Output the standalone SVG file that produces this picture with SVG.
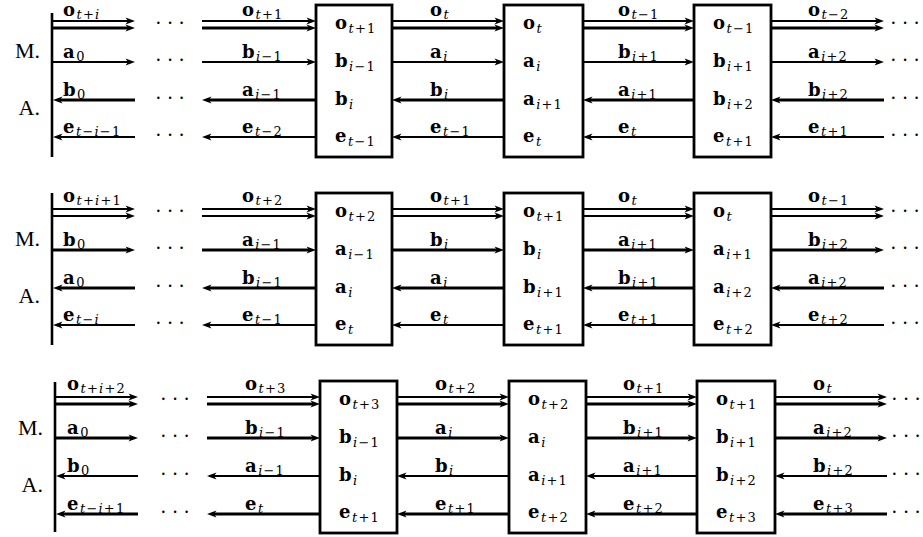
<svg xmlns="http://www.w3.org/2000/svg" width="923" height="537" viewBox="0 0 923 537">
<defs>
<marker id="ah" viewBox="-10 -4 10 8" refX="-5" refY="0" markerWidth="10" markerHeight="8" markerUnits="userSpaceOnUse" orient="auto" overflow="visible"><path d="M0,0 L-9.5,-3.6 L-7,0 L-9.5,3.6 Z" fill="#000"/></marker>
<style>
.t{stroke:#000;fill:none;stroke-width:1.8;marker-end:url(#ah)}
.k{stroke:#000;fill:none;stroke-width:3.2;marker-end:url(#ah)}
.bar{stroke:#000;stroke-width:2.6}
.box{fill:#fff;stroke:#000;stroke-width:2.8}
.lb{font-family:"DejaVu Serif",serif;font-weight:bold;font-size:18px;fill:#000}
.sb{font-weight:normal;font-size:13px;letter-spacing:1.2px}
.i{font-style:italic}
.ml{font-family:"Liberation Serif",serif;font-size:22px;fill:#000;text-anchor:end}
.dt{font-family:"Liberation Serif",serif;font-size:20px;fill:#000;text-anchor:middle}
</style>
</defs>
<rect width="923" height="537" fill="#fff"/>

<g id="row1-frame">
<line class="bar" x1="52" y1="13" x2="52" y2="157"/>
<text class="ml" x="40" y="58">M.</text>
<text class="ml" x="40" y="115">A.</text>
<text class="dt" x="170" y="30">· · ·</text>
<text class="dt" x="170" y="67">· · ·</text>
<text class="dt" x="170" y="105">· · ·</text>
<text class="dt" x="170" y="142">· · ·</text>
<text class="dt" x="905" y="30">· · ·</text>
<text class="dt" x="905" y="67">· · ·</text>
<text class="dt" x="905" y="105">· · ·</text>
<text class="dt" x="905" y="142">· · ·</text>
</g>
<g id="row2-frame">
<line class="bar" x1="52" y1="193" x2="52" y2="345"/>
<text class="ml" x="40" y="246">M.</text>
<text class="ml" x="40" y="303">A.</text>
<text class="dt" x="170" y="218">· · ·</text>
<text class="dt" x="170" y="255">· · ·</text>
<text class="dt" x="170" y="293">· · ·</text>
<text class="dt" x="170" y="330">· · ·</text>
<text class="dt" x="905" y="218">· · ·</text>
<text class="dt" x="905" y="255">· · ·</text>
<text class="dt" x="905" y="293">· · ·</text>
<text class="dt" x="905" y="330">· · ·</text>
</g>
<g id="row3-frame">
<line class="bar" x1="55" y1="382" x2="55" y2="532"/>
<text class="ml" x="43" y="435">M.</text>
<text class="ml" x="43" y="492">A.</text>
<text class="dt" x="175" y="406">· · ·</text>
<text class="dt" x="175" y="443">· · ·</text>
<text class="dt" x="175" y="481">· · ·</text>
<text class="dt" x="175" y="519">· · ·</text>
<text class="dt" x="906" y="406">· · ·</text>
<text class="dt" x="906" y="443">· · ·</text>
<text class="dt" x="906" y="481">· · ·</text>
<text class="dt" x="906" y="519">· · ·</text>
</g>

<g id="connectors">
<!-- row 1 -->
<line class="t" x1="52" y1="21" x2="130" y2="21"/><line class="k" x1="52" y1="28" x2="130" y2="28"/><line class="t" x1="52" y1="62" x2="130" y2="62"/><line class="k" x1="135" y1="100" x2="58" y2="100"/><line class="t" x1="135" y1="137" x2="58" y2="137"/>
<line class="t" x1="202" y1="21" x2="311" y2="21"/><line class="k" x1="202" y1="28" x2="311" y2="28"/><line class="t" x1="202" y1="62" x2="311" y2="62"/><line class="k" x1="316" y1="100" x2="207" y2="100"/><line class="t" x1="316" y1="137" x2="207" y2="137"/>
<line class="t" x1="392" y1="21" x2="499" y2="21"/><line class="k" x1="392" y1="28" x2="499" y2="28"/><line class="t" x1="392" y1="62" x2="499" y2="62"/><line class="k" x1="504" y1="100" x2="397" y2="100"/><line class="t" x1="504" y1="137" x2="397" y2="137"/>
<line class="t" x1="583" y1="21" x2="689" y2="21"/><line class="k" x1="583" y1="28" x2="689" y2="28"/><line class="t" x1="583" y1="62" x2="689" y2="62"/><line class="k" x1="694" y1="100" x2="588" y2="100"/><line class="t" x1="694" y1="137" x2="588" y2="137"/>
<line class="t" x1="771" y1="21" x2="879" y2="21"/><line class="k" x1="771" y1="28" x2="879" y2="28"/><line class="t" x1="771" y1="62" x2="879" y2="62"/><line class="k" x1="884" y1="100" x2="776" y2="100"/><line class="t" x1="884" y1="137" x2="776" y2="137"/>
<!-- row 2 -->
<line class="t" x1="52" y1="209" x2="130" y2="209"/><line class="t" x1="52" y1="216" x2="130" y2="216"/><line class="k" x1="52" y1="250" x2="130" y2="250"/><line class="k" x1="135" y1="288" x2="58" y2="288"/><line class="t" x1="135" y1="325" x2="58" y2="325"/>
<line class="t" x1="202" y1="209" x2="311" y2="209"/><line class="t" x1="202" y1="216" x2="311" y2="216"/><line class="k" x1="202" y1="250" x2="311" y2="250"/><line class="k" x1="316" y1="288" x2="207" y2="288"/><line class="t" x1="316" y1="325" x2="207" y2="325"/>
<line class="t" x1="392" y1="209" x2="499" y2="209"/><line class="t" x1="392" y1="216" x2="499" y2="216"/><line class="k" x1="392" y1="250" x2="499" y2="250"/><line class="k" x1="504" y1="288" x2="397" y2="288"/><line class="t" x1="504" y1="325" x2="397" y2="325"/>
<line class="t" x1="583" y1="209" x2="689" y2="209"/><line class="t" x1="583" y1="216" x2="689" y2="216"/><line class="k" x1="583" y1="250" x2="689" y2="250"/><line class="k" x1="694" y1="288" x2="588" y2="288"/><line class="t" x1="694" y1="325" x2="588" y2="325"/>
<line class="t" x1="771" y1="209" x2="879" y2="209"/><line class="t" x1="771" y1="216" x2="879" y2="216"/><line class="k" x1="771" y1="250" x2="879" y2="250"/><line class="k" x1="884" y1="288" x2="776" y2="288"/><line class="t" x1="884" y1="325" x2="776" y2="325"/>
<!-- row 3 -->
<line class="t" x1="55" y1="397" x2="133" y2="397"/><line class="k" x1="55" y1="404" x2="133" y2="404"/><line class="k" x1="55" y1="438" x2="133" y2="438"/><line class="t" x1="138" y1="476" x2="61" y2="476"/><line class="k" x1="138" y1="514" x2="61" y2="514"/>
<line class="t" x1="207" y1="397" x2="315" y2="397"/><line class="k" x1="207" y1="404" x2="315" y2="404"/><line class="k" x1="207" y1="438" x2="315" y2="438"/><line class="t" x1="320" y1="476" x2="212" y2="476"/><line class="k" x1="320" y1="514" x2="212" y2="514"/>
<line class="t" x1="397" y1="397" x2="504" y2="397"/><line class="k" x1="397" y1="404" x2="504" y2="404"/><line class="k" x1="397" y1="438" x2="504" y2="438"/><line class="t" x1="509" y1="476" x2="402" y2="476"/><line class="k" x1="509" y1="514" x2="402" y2="514"/>
<line class="t" x1="586" y1="397" x2="692" y2="397"/><line class="k" x1="586" y1="404" x2="692" y2="404"/><line class="k" x1="586" y1="438" x2="692" y2="438"/><line class="t" x1="697" y1="476" x2="591" y2="476"/><line class="k" x1="697" y1="514" x2="591" y2="514"/>
<line class="t" x1="775" y1="397" x2="882" y2="397"/><line class="k" x1="775" y1="404" x2="882" y2="404"/><line class="k" x1="775" y1="438" x2="882" y2="438"/><line class="t" x1="887" y1="476" x2="780" y2="476"/><line class="k" x1="887" y1="514" x2="780" y2="514"/>
</g>

<g id="edge-labels" class="lb">
<!-- row 1 -->
<text x="63" y="16">o<tspan class="sb" dx="1.5" dy="2.5"><tspan class="i">t</tspan>+<tspan class="i">i</tspan></tspan></text>
<text x="63" y="57.5">a<tspan class="sb" dx="1.5" dy="3">0</tspan></text>
<text x="63" y="95.5">b<tspan class="sb" dx="1.5" dy="3">0</tspan></text>
<text x="63" y="132.5">e<tspan class="sb" dx="1.5" dy="3"><tspan class="i">t</tspan>−<tspan class="i">i</tspan>−1</tspan></text>
<text x="242" y="16">o<tspan class="sb" dx="1.5" dy="2.5"><tspan class="i">t</tspan>+1</tspan></text>
<text x="242" y="57.5">b<tspan class="sb" dx="1.5" dy="3"><tspan class="i">i</tspan>−1</tspan></text>
<text x="242" y="95.5">a<tspan class="sb" dx="1.5" dy="3"><tspan class="i">i</tspan>−1</tspan></text>
<text x="242" y="132.5">e<tspan class="sb" dx="1.5" dy="3"><tspan class="i">t</tspan>−2</tspan></text>
<text x="430" y="16">o<tspan class="sb" dx="1.5" dy="2.5"><tspan class="i">t</tspan></tspan></text>
<text x="430" y="57.5">a<tspan class="sb" dx="1.5" dy="3"><tspan class="i">i</tspan></tspan></text>
<text x="430" y="95.5">b<tspan class="sb" dx="1.5" dy="3"><tspan class="i">i</tspan></tspan></text>
<text x="430" y="132.5">e<tspan class="sb" dx="1.5" dy="3"><tspan class="i">t</tspan>−1</tspan></text>
<text x="618" y="16">o<tspan class="sb" dx="1.5" dy="2.5"><tspan class="i">t</tspan>−1</tspan></text>
<text x="618" y="57.5">b<tspan class="sb" dx="1.5" dy="3"><tspan class="i">i</tspan>+1</tspan></text>
<text x="618" y="95.5">a<tspan class="sb" dx="1.5" dy="3"><tspan class="i">i</tspan>+1</tspan></text>
<text x="618" y="132.5">e<tspan class="sb" dx="1.5" dy="3"><tspan class="i">t</tspan></tspan></text>
<text x="808" y="16">o<tspan class="sb" dx="1.5" dy="2.5"><tspan class="i">t</tspan>−2</tspan></text>
<text x="808" y="57.5">a<tspan class="sb" dx="1.5" dy="3"><tspan class="i">i</tspan>+2</tspan></text>
<text x="808" y="95.5">b<tspan class="sb" dx="1.5" dy="3"><tspan class="i">i</tspan>+2</tspan></text>
<text x="808" y="132.5">e<tspan class="sb" dx="1.5" dy="3"><tspan class="i">t</tspan>+1</tspan></text>
<!-- row 2 -->
<text x="63" y="202">o<tspan class="sb" dx="1.5" dy="3"><tspan class="i">t</tspan>+<tspan class="i">i</tspan>+1</tspan></text>
<text x="63" y="245.5">b<tspan class="sb" dx="1.5" dy="3">0</tspan></text>
<text x="63" y="283.5">a<tspan class="sb" dx="1.5" dy="3">0</tspan></text>
<text x="63" y="320.5">e<tspan class="sb" dx="1.5" dy="3"><tspan class="i">t</tspan>−<tspan class="i">i</tspan></tspan></text>
<text x="242" y="202">o<tspan class="sb" dx="1.5" dy="3"><tspan class="i">t</tspan>+2</tspan></text>
<text x="242" y="245.5">a<tspan class="sb" dx="1.5" dy="3"><tspan class="i">i</tspan>−1</tspan></text>
<text x="242" y="283.5">b<tspan class="sb" dx="1.5" dy="3"><tspan class="i">i</tspan>−1</tspan></text>
<text x="242" y="320.5">e<tspan class="sb" dx="1.5" dy="3"><tspan class="i">t</tspan>−1</tspan></text>
<text x="430" y="202">o<tspan class="sb" dx="1.5" dy="3"><tspan class="i">t</tspan>+1</tspan></text>
<text x="430" y="245.5">b<tspan class="sb" dx="1.5" dy="3"><tspan class="i">i</tspan></tspan></text>
<text x="430" y="283.5">a<tspan class="sb" dx="1.5" dy="3"><tspan class="i">i</tspan></tspan></text>
<text x="430" y="320.5">e<tspan class="sb" dx="1.5" dy="3"><tspan class="i">t</tspan></tspan></text>
<text x="618" y="202">o<tspan class="sb" dx="1.5" dy="3"><tspan class="i">t</tspan></tspan></text>
<text x="618" y="245.5">a<tspan class="sb" dx="1.5" dy="3"><tspan class="i">i</tspan>+1</tspan></text>
<text x="618" y="283.5">b<tspan class="sb" dx="1.5" dy="3"><tspan class="i">i</tspan>+1</tspan></text>
<text x="618" y="320.5">e<tspan class="sb" dx="1.5" dy="3"><tspan class="i">t</tspan>+1</tspan></text>
<text x="808" y="202">o<tspan class="sb" dx="1.5" dy="3"><tspan class="i">t</tspan>−1</tspan></text>
<text x="808" y="245.5">b<tspan class="sb" dx="1.5" dy="3"><tspan class="i">i</tspan>+2</tspan></text>
<text x="808" y="283.5">a<tspan class="sb" dx="1.5" dy="3"><tspan class="i">i</tspan>+2</tspan></text>
<text x="808" y="320.5">e<tspan class="sb" dx="1.5" dy="3"><tspan class="i">t</tspan>+2</tspan></text>
<!-- row 3 -->
<text x="67" y="390">o<tspan class="sb" dx="1.5" dy="3"><tspan class="i">t</tspan>+<tspan class="i">i</tspan>+2</tspan></text>
<text x="67" y="433.5">a<tspan class="sb" dx="1.5" dy="3">0</tspan></text>
<text x="67" y="471.5">b<tspan class="sb" dx="1.5" dy="3">0</tspan></text>
<text x="67" y="509.5">e<tspan class="sb" dx="1.5" dy="3"><tspan class="i">t</tspan>−<tspan class="i">i</tspan>+1</tspan></text>
<text x="245" y="390">o<tspan class="sb" dx="1.5" dy="3"><tspan class="i">t</tspan>+3</tspan></text>
<text x="245" y="433.5">b<tspan class="sb" dx="1.5" dy="3"><tspan class="i">i</tspan>−1</tspan></text>
<text x="245" y="471.5">a<tspan class="sb" dx="1.5" dy="3"><tspan class="i">i</tspan>−1</tspan></text>
<text x="245" y="509.5">e<tspan class="sb" dx="1.5" dy="3"><tspan class="i">t</tspan></tspan></text>
<text x="435" y="390">o<tspan class="sb" dx="1.5" dy="3"><tspan class="i">t</tspan>+2</tspan></text>
<text x="435" y="433.5">a<tspan class="sb" dx="1.5" dy="3"><tspan class="i">i</tspan></tspan></text>
<text x="435" y="471.5">b<tspan class="sb" dx="1.5" dy="3"><tspan class="i">i</tspan></tspan></text>
<text x="435" y="509.5">e<tspan class="sb" dx="1.5" dy="3"><tspan class="i">t</tspan>+1</tspan></text>
<text x="623" y="390">o<tspan class="sb" dx="1.5" dy="3"><tspan class="i">t</tspan>+1</tspan></text>
<text x="623" y="433.5">b<tspan class="sb" dx="1.5" dy="3"><tspan class="i">i</tspan>+1</tspan></text>
<text x="623" y="471.5">a<tspan class="sb" dx="1.5" dy="3"><tspan class="i">i</tspan>+1</tspan></text>
<text x="623" y="509.5">e<tspan class="sb" dx="1.5" dy="3"><tspan class="i">t</tspan>+2</tspan></text>
<text x="813" y="390">o<tspan class="sb" dx="1.5" dy="3"><tspan class="i">t</tspan></tspan></text>
<text x="813" y="433.5">a<tspan class="sb" dx="1.5" dy="3"><tspan class="i">i</tspan>+2</tspan></text>
<text x="813" y="471.5">b<tspan class="sb" dx="1.5" dy="3"><tspan class="i">i</tspan>+2</tspan></text>
<text x="813" y="509.5">e<tspan class="sb" dx="1.5" dy="3"><tspan class="i">t</tspan>+3</tspan></text>
</g>

<!-- nodes -->
<g id="r1-box1" class="lb"><rect class="box" x="316" y="5" width="76" height="152"/>
<text x="335" y="29">o<tspan class="sb" dx="1.5" dy="3.5"><tspan class="i">t</tspan>+1</tspan></text>
<text x="335" y="67">b<tspan class="sb" dx="1.5" dy="3.5"><tspan class="i">i</tspan>−1</tspan></text>
<text x="335" y="105">b<tspan class="sb" dx="1.5" dy="3.5"><tspan class="i">i</tspan></tspan></text>
<text x="335" y="142">e<tspan class="sb" dx="1.5" dy="3.5"><tspan class="i">t</tspan>−1</tspan></text></g>
<g id="r1-box2" class="lb"><rect class="box" x="504" y="5" width="79" height="152"/>
<text x="523" y="29">o<tspan class="sb" dx="1.5" dy="3.5"><tspan class="i">t</tspan></tspan></text>
<text x="523" y="67">a<tspan class="sb" dx="1.5" dy="3.5"><tspan class="i">i</tspan></tspan></text>
<text x="523" y="105">a<tspan class="sb" dx="1.5" dy="3.5"><tspan class="i">i</tspan>+1</tspan></text>
<text x="523" y="142">e<tspan class="sb" dx="1.5" dy="3.5"><tspan class="i">t</tspan></tspan></text></g>
<g id="r1-box3" class="lb"><rect class="box" x="694" y="5" width="77" height="152"/>
<text x="713" y="29">o<tspan class="sb" dx="1.5" dy="3.5"><tspan class="i">t</tspan>−1</tspan></text>
<text x="713" y="67">b<tspan class="sb" dx="1.5" dy="3.5"><tspan class="i">i</tspan>+1</tspan></text>
<text x="713" y="105">b<tspan class="sb" dx="1.5" dy="3.5"><tspan class="i">i</tspan>+2</tspan></text>
<text x="713" y="142">e<tspan class="sb" dx="1.5" dy="3.5"><tspan class="i">t</tspan>+1</tspan></text></g>

<g id="r2-box1" class="lb"><rect class="box" x="316" y="193" width="76" height="152"/>
<text x="335" y="217">o<tspan class="sb" dx="1.5" dy="3.5"><tspan class="i">t</tspan>+2</tspan></text>
<text x="335" y="255">a<tspan class="sb" dx="1.5" dy="3.5"><tspan class="i">i</tspan>−1</tspan></text>
<text x="335" y="293">a<tspan class="sb" dx="1.5" dy="3.5"><tspan class="i">i</tspan></tspan></text>
<text x="335" y="330">e<tspan class="sb" dx="1.5" dy="3.5"><tspan class="i">t</tspan></tspan></text></g>
<g id="r2-box2" class="lb"><rect class="box" x="504" y="193" width="79" height="152"/>
<text x="523" y="217">o<tspan class="sb" dx="1.5" dy="3.5"><tspan class="i">t</tspan>+1</tspan></text>
<text x="523" y="255">b<tspan class="sb" dx="1.5" dy="3.5"><tspan class="i">i</tspan></tspan></text>
<text x="523" y="293">b<tspan class="sb" dx="1.5" dy="3.5"><tspan class="i">i</tspan>+1</tspan></text>
<text x="523" y="330">e<tspan class="sb" dx="1.5" dy="3.5"><tspan class="i">t</tspan>+1</tspan></text></g>
<g id="r2-box3" class="lb"><rect class="box" x="694" y="193" width="77" height="152"/>
<text x="713" y="217">o<tspan class="sb" dx="1.5" dy="3.5"><tspan class="i">t</tspan></tspan></text>
<text x="713" y="255">a<tspan class="sb" dx="1.5" dy="3.5"><tspan class="i">i</tspan>+1</tspan></text>
<text x="713" y="293">a<tspan class="sb" dx="1.5" dy="3.5"><tspan class="i">i</tspan>+2</tspan></text>
<text x="713" y="330">e<tspan class="sb" dx="1.5" dy="3.5"><tspan class="i">t</tspan>+2</tspan></text></g>

<g id="r3-box1" class="lb"><rect class="box" x="320" y="381" width="77" height="152"/>
<text x="339" y="405">o<tspan class="sb" dx="1.5" dy="3.5"><tspan class="i">t</tspan>+3</tspan></text>
<text x="339" y="443">b<tspan class="sb" dx="1.5" dy="3.5"><tspan class="i">i</tspan>−1</tspan></text>
<text x="339" y="481">b<tspan class="sb" dx="1.5" dy="3.5"><tspan class="i">i</tspan></tspan></text>
<text x="339" y="518">e<tspan class="sb" dx="1.5" dy="3.5"><tspan class="i">t</tspan>+1</tspan></text></g>
<g id="r3-box2" class="lb"><rect class="box" x="509" y="381" width="77" height="152"/>
<text x="528" y="405">o<tspan class="sb" dx="1.5" dy="3.5"><tspan class="i">t</tspan>+2</tspan></text>
<text x="528" y="443">a<tspan class="sb" dx="1.5" dy="3.5"><tspan class="i">i</tspan></tspan></text>
<text x="528" y="481">a<tspan class="sb" dx="1.5" dy="3.5"><tspan class="i">i</tspan>+1</tspan></text>
<text x="528" y="518">e<tspan class="sb" dx="1.5" dy="3.5"><tspan class="i">t</tspan>+2</tspan></text></g>
<g id="r3-box3" class="lb"><rect class="box" x="697" y="381" width="78" height="152"/>
<text x="716" y="405">o<tspan class="sb" dx="1.5" dy="3.5"><tspan class="i">t</tspan>+1</tspan></text>
<text x="716" y="443">b<tspan class="sb" dx="1.5" dy="3.5"><tspan class="i">i</tspan>+1</tspan></text>
<text x="716" y="481">b<tspan class="sb" dx="1.5" dy="3.5"><tspan class="i">i</tspan>+2</tspan></text>
<text x="716" y="518">e<tspan class="sb" dx="1.5" dy="3.5"><tspan class="i">t</tspan>+3</tspan></text></g>
</svg>
